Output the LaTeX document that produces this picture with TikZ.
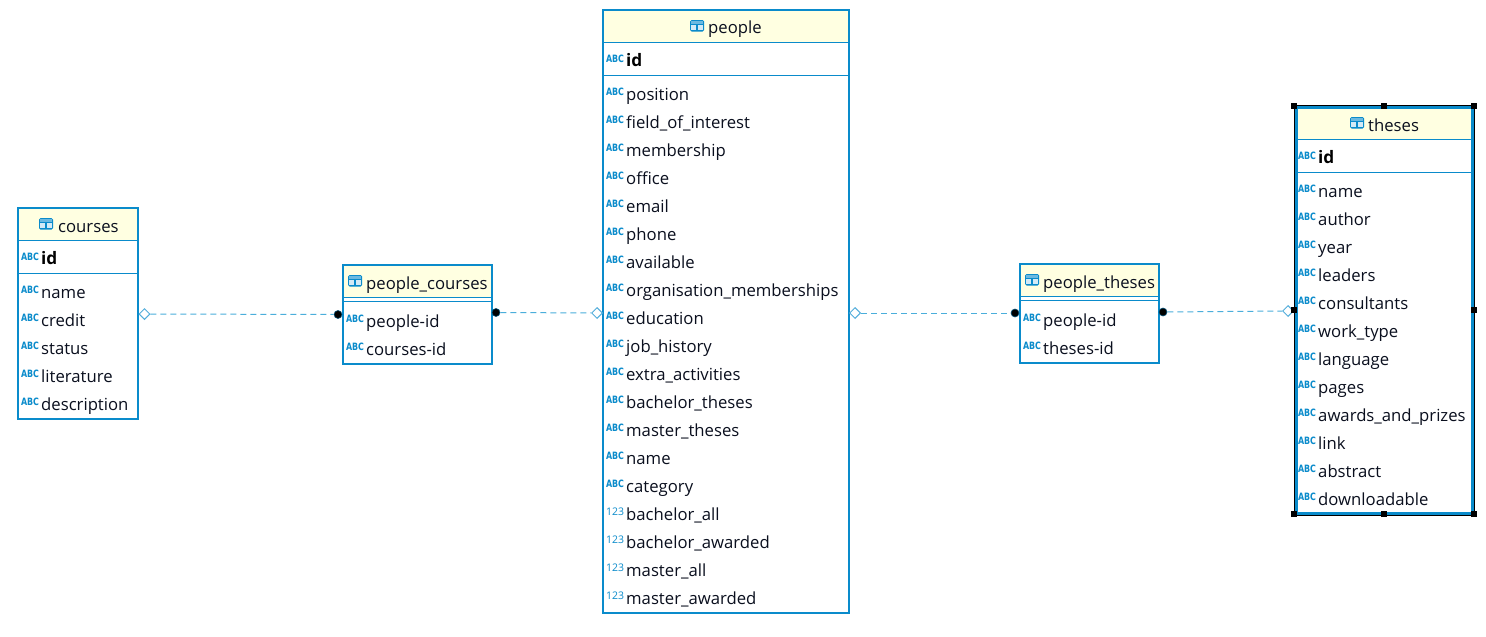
\documentclass[tikz,border=0pt]{standalone}
\usepackage{fontspec}
\setmainfont{Open Sans}
\newfontfamily\iconfont{DejaVu Sans}
\usetikzlibrary{shapes.geometric}
\definecolor{erblue}{HTML}{0A8BCB}
\definecolor{erhead}{HTML}{FFFFE1}
\definecolor{erlink}{HTML}{4AAEDB}
\definecolor{ertext}{HTML}{0A0F1E}
\tikzset{
  x=1pt,y=-1pt,
  tablebox/.style={draw=erblue,line width=2.4pt,fill=white,rectangle,inner sep=0pt},
  headfill/.style={fill=erhead,draw=none},
  sepline/.style={draw=erblue,line width=1pt},
  rowtext/.style={font=\fontsize{16.7}{20}\selectfont,text=ertext,anchor=base west,inner sep=0pt},
  headtext/.style={rowtext},
  idtext/.style={font=\fontsize{17.2}{20}\selectfont\bfseries,text=black,anchor=base west,inner sep=0pt},
  abcicon/.style={font=\iconfont\fontsize{9}{10}\selectfont\bfseries,text=erblue,anchor=center,inner sep=0pt,xscale=.88,yscale=1.12,transform shape},
  numicon/.style={font=\fontsize{10.5}{10}\selectfont,text=erblue,anchor=center,inner sep=0pt},
  rel/.style={draw=erlink,line width=1pt,dash pattern=on 6pt off 4pt},
  opendia/.style={diamond,draw=erblue!70,fill=white,line width=1pt,minimum width=11pt,minimum height=11pt,inner sep=0pt},
  blackdot/.style={circle,fill=black,draw=erblue!60!black,line width=.6pt,minimum size=8pt,inner sep=0pt},
  handle/.style={rectangle,fill=black,minimum size=5.5pt,inner sep=0pt},
}
% name, x0, y0, x1, y1, header bottom, second line
\newcommand{\ertable}[7]{%
  \node[tablebox,minimum width=#4-#2,minimum height=#5-#3,anchor=center] (#1) at ({(#2+#4)/2},{(#3+#5)/2}) {};
  \fill[headfill] (#2+1,#3+1) rectangle (#4-1,#6);
  \draw[sepline] (#2,#6) -- (#4,#6);
  \draw[sepline] (#2,#7) -- (#4,#7);
}
% table icon at centre
\newcommand{\tabicon}[2]{%
  \fill[erblue,rounded corners=1.5pt] (#1-7,#2-6) rectangle (#1+7,#2+5.5);
  \fill[erblue!18] (#1-5.6,#2-1) rectangle (#1-.6,#2+4);
  \fill[erblue!18] (#1+.6,#2-1) rectangle (#1+5.6,#2+4);
  \fill[erblue!60] (#1-5.6,#2-4.6) rectangle (#1+5.6,#2-2.2);
}
% node name, table left x, centre y, text
\newcommand{\abcrow}[4]{%
  \node[abcicon] (#1-i) at (#2+12,#3-2) {ABC};
  \node[rowtext] (#1) at (#2+23,#3+6) {#4};
}
\newcommand{\numrow}[4]{%
  \node[numicon] (#1-i) at (#2+12,#3-2) {123};
  \node[rowtext] (#1) at (#2+23,#3+6) {#4};
}
\newcommand{\idrow}[3]{%
  \node[abcicon] (#1-i) at (#2+12,#3-1) {ABC};
  \node[idtext] (#1) at (#2+23,#3+6) {id};
}
\begin{document}
\begin{tikzpicture}
\useasboundingbox (0,0) rectangle (1486,637);
\fill[white] (0,0) rectangle (1486,637);

% courses
\ertable{courses}{18}{208}{138}{419}{240}{273}
\tabicon{46}{224}
\node[headtext] (courses-h) at (58,232) {courses};
\idrow{courses-id}{18}{258}
\abcrow{courses-a}{18}{292}{name}
\abcrow{courses-b}{18}{320}{credit}
\abcrow{courses-c}{18}{348}{status}
\abcrow{courses-d}{18}{376}{literature}
\abcrow{courses-e}{18}{404}{description}

% people_courses
\ertable{pc}{343}{265}{492}{364}{297}{301}
\tabicon{355}{281}
\node[headtext] (pc-h) at (366,289) {people\_courses};
\abcrow{pc-a}{343}{321}{people-id}
\abcrow{pc-b}{343}{349}{courses-id}

% people
\ertable{people}{603}{10}{849}{613}{42}{75}
\tabicon{697}{26}
\node[headtext] (people-h) at (708,34) {people};
\idrow{people-id}{603}{60}
\abcrow{people-a}{603}{94}{position}
\abcrow{people-b}{603}{122}{field\_of\_interest}
\abcrow{people-c}{603}{150}{membership}
\abcrow{people-d}{603}{178}{office}
\abcrow{people-e}{603}{206}{email}
\abcrow{people-f}{603}{234}{phone}
\abcrow{people-g}{603}{262}{available}
\abcrow{people-h2}{603}{290}{organisation\_memberships}
\abcrow{people-i}{603}{318}{education}
\abcrow{people-j}{603}{346}{job\_history}
\abcrow{people-k}{603}{374}{extra\_activities}
\abcrow{people-l}{603}{402}{bachelor\_theses}
\abcrow{people-m}{603}{430}{master\_theses}
\abcrow{people-n}{603}{458}{name}
\abcrow{people-o}{603}{486}{category}
\numrow{people-p}{603}{514}{bachelor\_all}
\numrow{people-q}{603}{542}{bachelor\_awarded}
\numrow{people-r}{603}{570}{master\_all}
\numrow{people-s}{603}{598}{master\_awarded}

% people_theses
\ertable{pt}{1020}{264}{1159}{363}{296}{300}
\tabicon{1032}{280}
\node[headtext] (pt-h) at (1043,288) {people\_theses};
\abcrow{pt-a}{1020}{320}{people-id}
\abcrow{pt-b}{1020}{348}{theses-id}

% theses
\draw[black,line width=1pt] (1294,105.5) rectangle (1474,515);
\ertable{theses}{1296}{107}{1473}{514}{139}{172}
\draw[erblue,line width=3pt] (1296,107.5) rectangle (1472.5,513.5);
\fill[headfill] (1298,109) rectangle (1471,138.5);
\tabicon{1357}{123}
\node[headtext] (theses-h) at (1368,131) {theses};
\idrow{theses-id}{1295}{157}
\abcrow{theses-a}{1295}{191}{name}
\abcrow{theses-b}{1295}{219}{author}
\abcrow{theses-c}{1295}{247}{year}
\abcrow{theses-d}{1295}{275}{leaders}
\abcrow{theses-e}{1295}{303}{consultants}
\abcrow{theses-f}{1295}{331}{work\_type}
\abcrow{theses-g}{1295}{359}{language}
\abcrow{theses-h2}{1295}{387}{pages}
\abcrow{theses-i}{1295}{415}{awards\_and\_prizes}
\abcrow{theses-j}{1295}{443}{link}
\abcrow{theses-k}{1295}{471}{abstract}
\abcrow{theses-l}{1295}{499}{downloadable}

% relation ends
\node[opendia] (r1a) at (144.5,314) {};
\node[blackdot] (r1b) at (338,314.5) {};
\node[blackdot] (r2a) at (496,312.5) {};
\node[opendia] (r2b) at (597,313) {};
\node[opendia] (r3a) at (855,313) {};
\node[blackdot] (r3b) at (1015,313) {};
\node[blackdot] (r4a) at (1163,312) {};
\node[opendia] (r4b) at (1288,311) {};
\draw[rel] (r1a) -- (r1b);
\draw[rel] (r2a) -- (r2b);
\draw[rel] (r3a) -- (r3b);
\draw[rel] (r4a) -- (r4b);

% selection handles
\foreach \n/\hx/\hy in {h1/1294/106,h2/1384/106,h3/1474/106,h4/1294/310,h5/1474/310,h6/1294/514,h7/1384/514,h8/1474/514}
  \node[handle] (\n) at (\hx,\hy) {};
\end{tikzpicture}
\end{document}
